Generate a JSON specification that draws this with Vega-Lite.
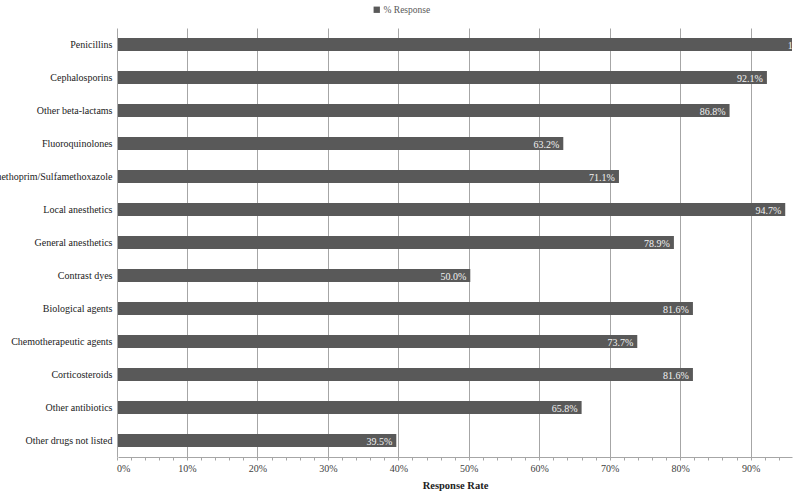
{
  "$schema": "https://vega.github.io/schema/vega-lite/v6.json",
  "width": 674,
  "height": 429,
  "autosize": "none",
  "padding": {"left": 118, "top": 28, "right": 8, "bottom": 39},
  "background": "white",
  "config": {"view": {"stroke": null}, "font": "Liberation Serif"},
  "data": {
    "values": [
      {"drug": "Penicillins", "value": 1.0},
      {"drug": "Cephalosporins", "value": 0.921},
      {"drug": "Other beta-lactams", "value": 0.868},
      {"drug": "Fluoroquinolones", "value": 0.632},
      {"drug": "Trimethoprim/Sulfamethoxazole", "value": 0.711},
      {"drug": "Local anesthetics", "value": 0.947},
      {"drug": "General anesthetics", "value": 0.789},
      {"drug": "Contrast dyes", "value": 0.5},
      {"drug": "Biological agents", "value": 0.816},
      {"drug": "Chemotherapeutic agents", "value": 0.737},
      {"drug": "Corticosteroids", "value": 0.816},
      {"drug": "Other antibiotics", "value": 0.658},
      {"drug": "Other drugs not listed", "value": 0.395}
    ]
  },
  "encoding": {
    "y": {
      "field": "drug",
      "type": "nominal",
      "sort": null,
      "scale": {"paddingInner": 0.6, "paddingOuter": 0.3},
      "axis": {
        "title": null,
        "domain": false,
        "ticks": false,
        "labelPadding": 6,
        "labelFont": "Liberation Serif",
        "labelFontSize": 10,
        "labelColor": "#222222",
        "labelLimit": 300
      }
    },
    "x": {
      "field": "value",
      "type": "quantitative",
      "scale": {"domain": [0, 0.9566], "nice": false, "zero": true},
      "axis": {
        "title": "Response Rate",
        "titleFont": "Liberation Serif",
        "titleFontSize": 10.5,
        "titleFontWeight": "bold",
        "titleColor": "#222222",
        "titlePadding": 7,
        "format": ".0%",
        "values": [0, 0.02, 0.04, 0.06, 0.08, 0.1, 0.12, 0.14, 0.16, 0.18, 0.2, 0.22, 0.24, 0.26, 0.28, 0.3, 0.32, 0.34, 0.36, 0.38, 0.4, 0.42, 0.44, 0.46, 0.48, 0.5, 0.52, 0.54, 0.56, 0.58, 0.6, 0.62, 0.64, 0.66, 0.68, 0.7, 0.72, 0.74, 0.76, 0.78, 0.8, 0.82, 0.84, 0.86, 0.88, 0.9, 0.92, 0.94],
        "labelExpr": "round(datum.value*100) % 10 === 0 ? datum.label : ''",
        "labelFont": "Liberation Serif",
        "labelFontSize": 10,
        "labelColor": "#404040",
        "labelPadding": 3,
        "grid": true,
        "gridColor": "#a6a6a6",
        "gridOpacity": {"condition": {"test": "round(datum.value*100) % 10 === 0", "value": 1}, "value": 0},
        "domainColor": "#a6a6a6",
        "tickColor": "#a6a6a6",
        "tickSize": 3,
        "tickOffset": -1.5
      }
    }
  },
  "layer": [
    {
      "mark": {"type": "bar", "clip": true},
      "encoding": {
        "color": {
          "datum": "% Response",
          "scale": {"range": ["#595959"]},
          "legend": {
            "title": null,
            "orient": "none",
            "legendX": 254,
            "legendY": -23,
            "symbolType": "square",
            "symbolSize": 40,
            "symbolStrokeWidth": 0,
            "labelFont": "Liberation Sans Narrow",
            "labelFontSize": 9.5,
            "labelColor": "#595959",
            "labelOffset": 2
          }
        }
      }
    },
    {
      "mark": {"type": "text", "align": "right", "baseline": "middle", "dx": -4, "dy": 1, "color": "#f2f2f2", "font": "Liberation Serif", "fontSize": 10, "clip": true},
      "encoding": {
        "text": {"field": "value", "type": "quantitative", "format": ".1%"}
      }
    }
  ]
}
